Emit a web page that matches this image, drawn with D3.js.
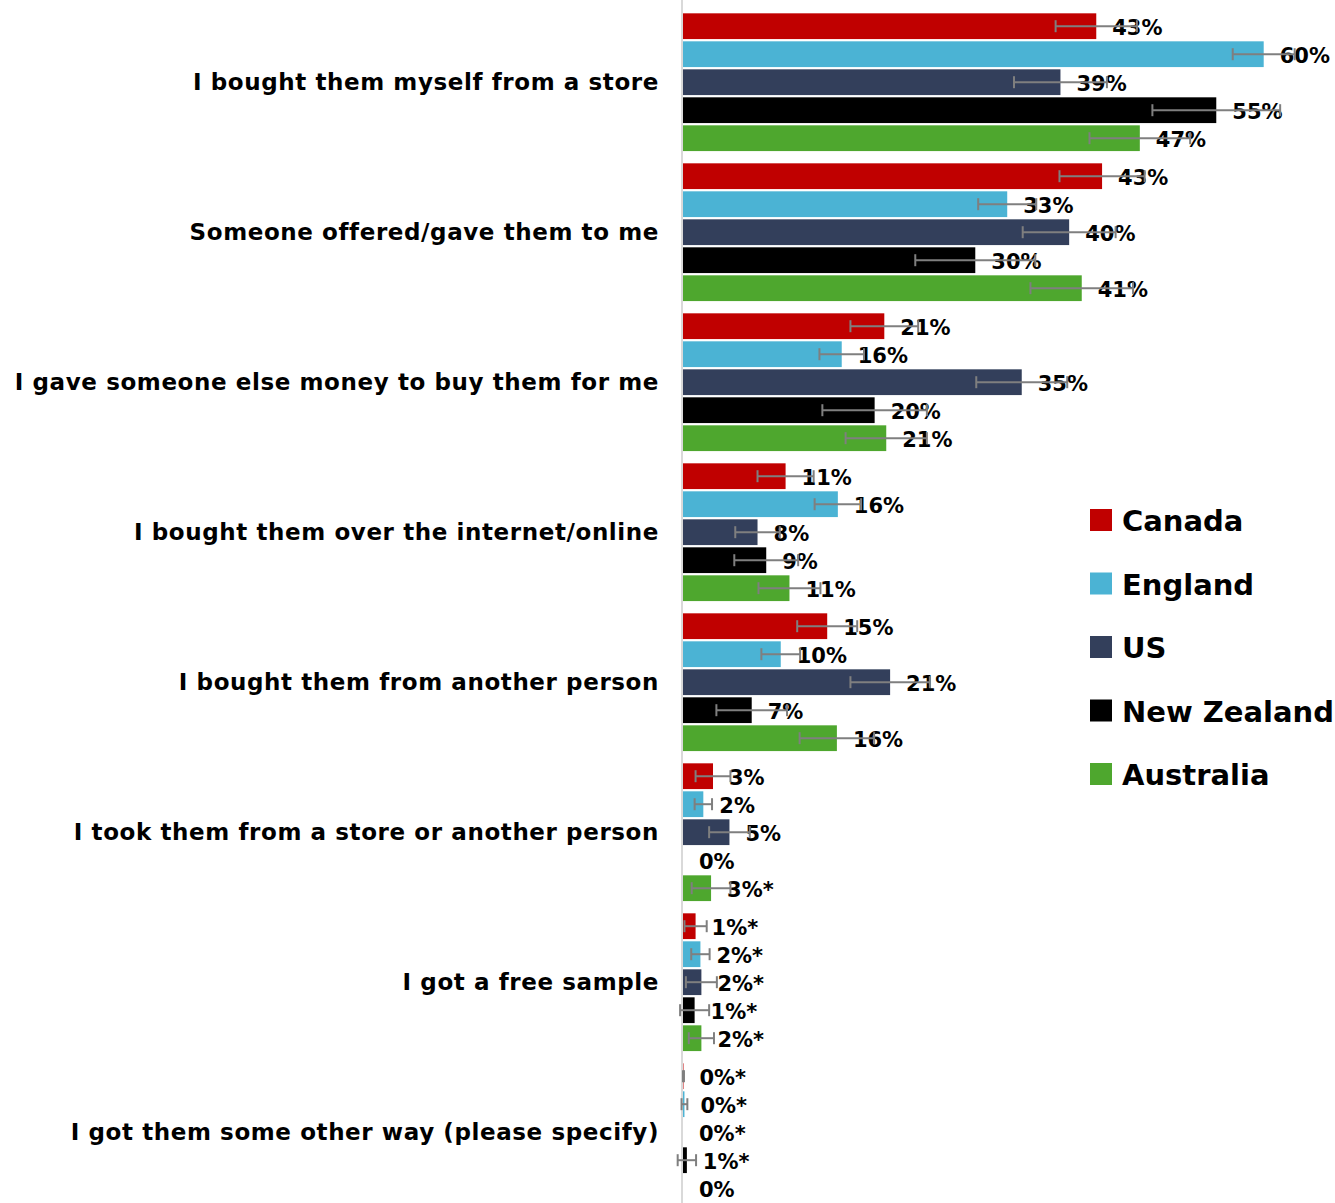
<!DOCTYPE html>
<html>
<head>
<meta charset="utf-8">
<script src="https://cdn.jsdelivr.net/npm/d3@7"></script>
<style>
  html, body { margin: 0; padding: 0; background: #ffffff; }
  svg { display: block; }
  text { font-family: "DejaVu Sans", "Open Sans", sans-serif; font-weight: 700; fill: #000; }
</style>
</head>
<body>
<svg id="chart" width="1335" height="1203"></svg>
<script>
const categories = [
  "I bought them myself from a store",
  "Someone offered/gave them to me",
  "I gave someone else money to buy them for me",
  "I bought them over the internet/online",
  "I bought them from another person",
  "I took them from a store or another person",
  "I got a free sample",
  "I got them some other way (please specify)"
];
const countries = ["Canada", "England", "US", "New Zealand", "Australia"];
const colors = ["#C00000", "#4BB3D4", "#333F5B", "#000000", "#4EA72E"];

// values (%), per country, in category order
const canadaValues  = [42.7, 43.3, 20.8, 10.6, 14.9, 3.1, 1.3, 0.05];
const englandValues = [60.0, 33.5, 16.4, 16.0, 10.1, 2.1, 1.8, 0.15];
const usValues      = [39.0, 39.9, 35.0,  7.7, 21.4, 4.8, 1.9, 0];
const nzValues      = [55.1, 30.2, 19.8,  8.6,  7.1, 0,   1.2, 0.4];
const ausValues     = [47.2, 41.2, 21.0, 11.0, 15.9, 2.9, 1.9, 0];

// error margins (%)
const canadaErrors  = [4.2, 4.4, 3.5, 2.9, 3.1, 1.8, 1.15, 0.05];
const englandErrors = [3.2, 3.0, 2.3, 2.4, 2.0, 0.9, 0.95, 0.3];
const usErrors      = [4.8, 4.8, 4.7, 2.3, 4.1, 2.1, 1.6, 0];
const nzErrors      = [6.6, 6.2, 5.4, 3.3, 3.65, 0, 1.5, 0.95];
const ausErrors     = [5.2, 5.3, 4.2, 3.2, 3.85, 2.0, 1.3, 0];

// data labels
const canadaLabels  = ["43%", "43%", "21%", "11%", "15%", "3%", "1%*", "0%*"];
const englandLabels = ["60%", "33%", "16%", "16%", "10%", "2%", "2%*", "0%*"];
const usLabels      = ["39%", "40%", "35%", "8%", "21%", "5%", "2%*", "0%*"];
const nzLabels      = ["55%", "30%", "20%", "9%", "7%", "0%", "1%*", "1%*"];
const ausLabels     = ["47%", "41%", "21%", "11%", "16%", "3%*", "2%*", "0%"];

const seriesValues = [canadaValues, englandValues, usValues, nzValues, ausValues];
const seriesErrors = [canadaErrors, englandErrors, usErrors, nzErrors, ausErrors];
const seriesLabels = [canadaLabels, englandLabels, usLabels, nzLabels, ausLabels];

const rows = [];
categories.forEach((cat, ci) => {
  countries.forEach((c, si) => {
    rows.push({
      category: cat, country: c, si,
      value: seriesValues[si][ci],
      error: seriesErrors[si][ci],
      label: seriesLabels[si][ci]
    });
  });
});

const svg = d3.select("#chart");

const x = d3.scaleLinear().domain([0, 60]).range([683, 1263.7]);
const y0 = d3.scaleBand().domain(categories).range([12.2, 1212.2]).paddingInner(0);
const y1 = d3.scaleBand().domain(countries).range([0, 140]).paddingInner(0.08).paddingOuter(0.04);
const color = d3.scaleOrdinal().domain(countries).range(colors);

// axis line
svg.append("line")
  .attr("x1", x(0) - 1).attr("x2", x(0) - 1)
  .attr("y1", 0).attr("y2", 1203)
  .attr("stroke", "#D9D9D9").attr("stroke-width", 2);

// category labels
svg.append("g").selectAll("text")
  .data(categories)
  .join("text")
  .attr("x", 659)
  .attr("y", d => y0(d) + 70 + 8)
  .attr("text-anchor", "end")
  .attr("font-size", 23)
  .attr("letter-spacing", 0.6)
  .text(d => d);

// bars
svg.append("g").selectAll("rect")
  .data(rows)
  .join("rect")
  .attr("x", x(0))
  .attr("y", d => y0(d.category) + y1(d.country))
  .attr("width", d => Math.max(0, x(d.value) - x(0)))
  .attr("height", y1.bandwidth())
  .attr("fill", d => color(d.country));

// value labels
svg.append("g").selectAll("text")
  .data(rows)
  .join("text")
  .attr("x", d => x(d.value) + 16)
  .attr("y", d => y0(d.category) + y1(d.country) + y1.bandwidth() / 2 + 8.5)
  .attr("font-size", 21)
  .text(d => d.label);

// error bars
const eb = svg.append("g").attr("stroke", "#7F7F7F").attr("stroke-width", 2).attr("fill", "none");
const ebRows = rows.filter(d => d.error > 0);
eb.selectAll("line.main")
  .data(ebRows).join("line").attr("class", "main")
  .attr("x1", d => x(d.value - d.error)).attr("x2", d => x(d.value + d.error))
  .attr("y1", d => y0(d.category) + y1(d.country) + y1.bandwidth() / 2)
  .attr("y2", d => y0(d.category) + y1(d.country) + y1.bandwidth() / 2);
eb.selectAll("line.capL")
  .data(ebRows).join("line").attr("class", "capL")
  .attr("x1", d => x(d.value - d.error)).attr("x2", d => x(d.value - d.error))
  .attr("y1", d => y0(d.category) + y1(d.country) + y1.bandwidth() / 2 - 6)
  .attr("y2", d => y0(d.category) + y1(d.country) + y1.bandwidth() / 2 + 6);
eb.selectAll("line.capR")
  .data(ebRows).join("line").attr("class", "capR")
  .attr("x1", d => x(d.value + d.error)).attr("x2", d => x(d.value + d.error))
  .attr("y1", d => y0(d.category) + y1(d.country) + y1.bandwidth() / 2 - 6)
  .attr("y2", d => y0(d.category) + y1(d.country) + y1.bandwidth() / 2 + 6);

// legend
const legend = svg.append("g").selectAll("g")
  .data(countries)
  .join("g")
  .attr("transform", (d, i) => `translate(1090, ${509 + i * 63.5})`);
legend.append("rect")
  .attr("width", 22).attr("height", 22)
  .attr("fill", d => color(d));
legend.append("text")
  .attr("x", 32).attr("y", 22)
  .attr("font-size", 29)
  .text(d => d);
</script>
</body>
</html>
